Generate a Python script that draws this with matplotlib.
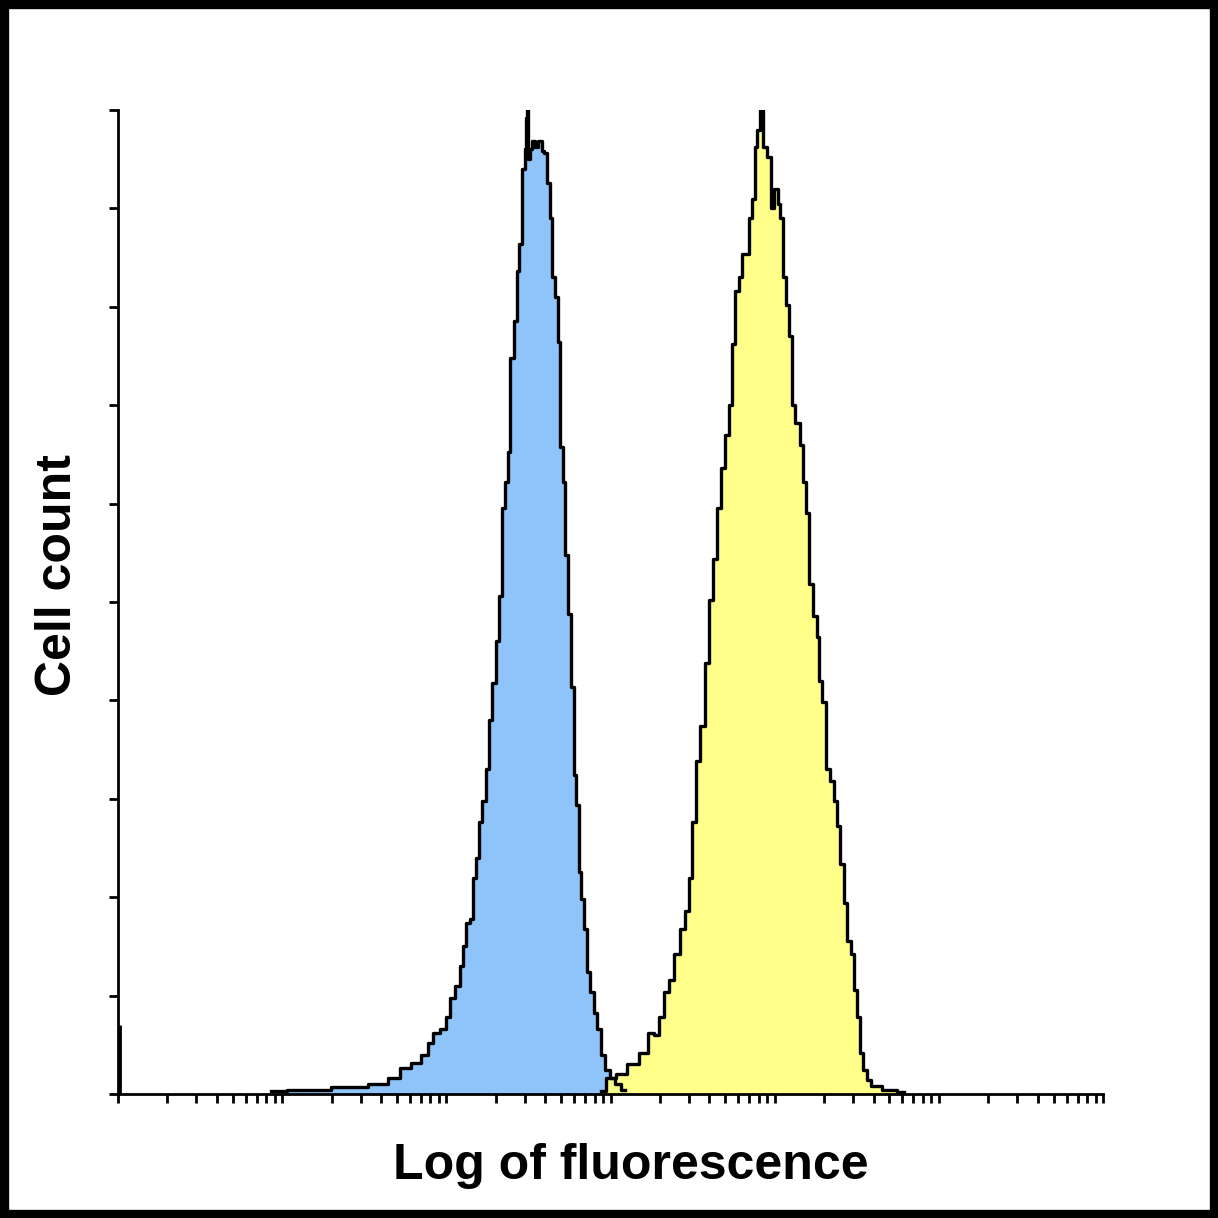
import numpy as np
import matplotlib.pyplot as plt
from matplotlib.patches import Rectangle
from matplotlib.ticker import LogLocator, NullFormatter, MultipleLocator

# log10 of fluorescence and cell counts
blue_log = [0.93, 1.11, 1.43, 1.60, 1.68, 1.75, 1.82, 1.87, 1.90, 1.94, 1.98, 2.01,
            2.03, 2.07, 2.09, 2.11, 2.13, 2.16, 2.17, 2.19, 2.21, 2.23, 2.25, 2.27,
            2.29, 2.31, 2.33, 2.35, 2.37, 2.38, 2.40, 2.42, 2.44, 2.45, 2.47, 2.485,
            2.49, 2.497, 2.503, 2.515, 2.53, 2.55, 2.57, 2.59, 2.60, 2.62, 2.64, 2.65,
            2.67, 2.69, 2.70, 2.72, 2.73, 2.75, 2.77, 2.78, 2.80, 2.81, 2.83, 2.85,
            2.86, 2.89, 2.91, 2.93, 2.95, 2.98, 3.01, 3.04, 3.09]
blue_count = [1.5, 2, 3.6, 5, 8, 13, 16, 20, 26, 31, 33, 39,
              49, 55, 65, 75, 87, 89, 110, 120, 138, 149, 165, 190,
              209, 230, 253, 298, 311, 326, 374, 393, 418, 432, 470, 480,
              496, 500, 475, 480, 484, 481, 484, 479, 478, 463, 445, 415,
              405, 382, 329, 311, 274, 244, 207, 162, 147, 113, 99, 84,
              62, 52, 41, 33, 20, 12, 8, 5, 2]

yellow_log = [2.94, 3.00, 3.06, 3.14, 3.20, 3.25, 3.28, 3.31, 3.34, 3.37, 3.40, 3.44,
              3.47, 3.48, 3.51, 3.53, 3.56, 3.59, 3.61, 3.64, 3.66, 3.68, 3.71, 3.73,
              3.745, 3.77, 3.79, 3.81, 3.84, 3.85, 3.87, 3.89, 3.90, 3.92, 3.94, 3.97,
              3.98, 4.01, 4.03, 4.04, 4.06, 4.08, 4.10, 4.11, 4.14, 4.17, 4.18, 4.20,
              4.22, 4.25, 4.26, 4.28, 4.30, 4.32, 4.35, 4.37, 4.39, 4.41, 4.43, 4.45,
              4.48, 4.49, 4.51, 4.53, 4.55, 4.57, 4.60, 4.70, 4.79]
yellow_count = [1.5, 8, 10, 15, 21, 31, 30, 39, 52, 58, 71, 84,
                93, 110, 138, 169, 187, 219, 251, 272, 298, 318, 335, 350,
                381, 408, 415, 427, 427, 445, 455, 481, 490, 500, 481, 476,
                450, 460, 452, 445, 415, 401, 385, 350, 341, 330, 311, 295,
                259, 243, 232, 210, 199, 165, 159, 149, 136, 117, 97, 78,
                71, 53, 39, 21, 12, 7, 4, 2, 1]

first_channel_log = 0.01
first_channel_count = 35

fig = plt.figure(figsize=(12.18, 12.18), dpi=100)
ax = fig.add_axes([0.0969, 0.1018, 0.8087, 0.8079])

bx = 10 ** np.array(blue_log)
yx = 10 ** np.array(yellow_log)

ax.fill_between(bx, blue_count, step='mid', color='#8ec4fa', lw=0)
ax.fill_between(yx, yellow_count, step='mid', color='#ffff80', lw=0, alpha=0.92)
ax.plot(bx, blue_count, drawstyle='steps-mid', color='black', lw=2.4)
ax.plot(yx, yellow_count, drawstyle='steps-mid', color='black', lw=2.4)
ax.vlines(10 ** first_channel_log, 0, first_channel_count, color='black', lw=2)

ax.set_xscale('log')
ax.set_xlim(1, 1e6)
ax.set_ylim(0, 500)
ax.xaxis.set_major_locator(LogLocator(base=10, numticks=10))
ax.xaxis.set_minor_locator(LogLocator(base=10, subs=np.arange(2, 10), numticks=20))
ax.xaxis.set_major_formatter(NullFormatter())
ax.xaxis.set_minor_formatter(NullFormatter())
ax.yaxis.set_major_locator(MultipleLocator(50))
ax.yaxis.set_major_formatter(NullFormatter())
ax.tick_params(which='both', direction='out', length=6.5, width=2, color='black')

for s in ['top', 'right']:
    ax.spines[s].set_visible(False)
for s in ['left', 'bottom']:
    ax.spines[s].set_linewidth(2)

font = dict(family=['Liberation Sans', 'DejaVu Sans'], weight='bold', size=36)
fig.text(0.518, 0.032, 'Log of fluorescence', ha='center', va='baseline', **font)
fig.text(0.058, 0.528, 'Cell count', rotation=90, rotation_mode='anchor',
         ha='center', va='baseline', **font)

fig.patches.append(Rectangle((0, 0), 1, 1, transform=fig.transFigure,
                             fill=False, edgecolor='black', lw=12.5))

fig.savefig('out.png', dpi=100)
